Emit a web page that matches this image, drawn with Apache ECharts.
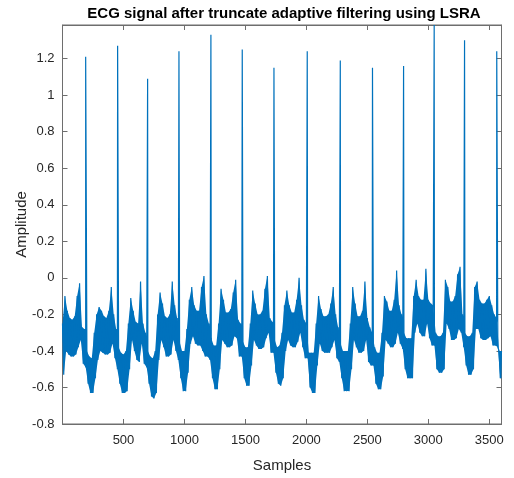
<!DOCTYPE html>
<html>
<head>
<meta charset="utf-8">
<style>
  html, body { margin: 0; padding: 0; background: #fff; }
  #chart { width: 514px; height: 478px; }
</style>
<script src="https://cdn.jsdelivr.net/npm/echarts/dist/echarts.min.js"></script>
</head>
<body>
<div id="chart"></div>
<script>
// band of the noisy signal, read every 20 samples (upper / lower edge)
var step = 20
var bandTop = [
  -0.25, -0.10, -0.18, -0.22, -0.23, -0.21, -0.10, -0.03, -0.27, -0.28,
  -0.40, -0.43, -0.44, -0.30, -0.20, -0.16, -0.18, -0.21, -0.22, -0.18,
  -0.05, -0.20, -0.28, -0.38, -0.41, -0.42, -0.40, -0.25, -0.11, -0.18,
  -0.24, -0.25, -0.02, -0.25, -0.30, -0.40, -0.43, -0.44, -0.40, -0.20,
  -0.08, -0.14, -0.21, -0.22, -0.20, -0.02, -0.15, -0.22, -0.35, -0.40,
  -0.40, -0.28, -0.12, -0.05, -0.15, -0.18, -0.18, -0.05, 0.01, -0.20,
  -0.25, -0.33, -0.37, -0.37, -0.25, -0.06, -0.12, -0.19, -0.19, -0.17,
  -0.08, -0.01, -0.23, -0.25, -0.35, -0.38, -0.38, -0.25, -0.07, -0.14,
  -0.20, -0.20, -0.18, -0.06, 0.01, -0.22, -0.24, -0.34, -0.38, -0.37,
  -0.30, -0.15, -0.07, -0.15, -0.19, -0.19, -0.12, 0.00, -0.15, -0.23,
  -0.25, -0.41, -0.41, -0.41, -0.25, -0.10, -0.17, -0.21, -0.21, -0.20,
  -0.14, -0.05, -0.20, -0.27, -0.36, -0.40, -0.40, -0.40, -0.25, -0.05,
  -0.14, -0.21, -0.21, -0.18, -0.02, -0.22, -0.27, -0.30, -0.38, -0.41,
  -0.41, -0.30, -0.10, -0.13, -0.18, -0.18, -0.12, 0.04, -0.15, -0.20,
  -0.30, -0.33, -0.33, -0.33, -0.10, -0.01, -0.10, -0.12, -0.12, 0.05,
  -0.12, -0.14, -0.15, -0.30, -0.32, -0.32, -0.30, -0.01, -0.05, -0.13,
  -0.13, -0.10, 0.02, 0.06, -0.20, -0.30, -0.32, -0.32, -0.30, -0.05,
  -0.02, -0.12, -0.14, -0.14, -0.12, -0.10, -0.15, -0.20, -0.22, -0.40,
  -0.40
]
var bandBottom = [
  -0.53, -0.40, -0.42, -0.43, -0.43, -0.42, -0.38, -0.34, -0.47, -0.49,
  -0.58, -0.63, -0.63, -0.55, -0.45, -0.40, -0.41, -0.42, -0.42, -0.41,
  -0.36, -0.44, -0.50, -0.58, -0.63, -0.63, -0.62, -0.50, -0.34, -0.40,
  -0.45, -0.46, -0.36, -0.47, -0.49, -0.58, -0.65, -0.66, -0.63, -0.45,
  -0.34, -0.38, -0.43, -0.43, -0.42, -0.34, -0.40, -0.45, -0.55, -0.62,
  -0.62, -0.52, -0.36, -0.32, -0.36, -0.37, -0.37, -0.40, -0.43, -0.43,
  -0.45, -0.55, -0.61, -0.61, -0.50, -0.34, -0.36, -0.38, -0.38, -0.37,
  -0.32, -0.33, -0.43, -0.43, -0.55, -0.59, -0.59, -0.48, -0.34, -0.37,
  -0.39, -0.39, -0.38, -0.33, -0.30, -0.41, -0.41, -0.52, -0.58, -0.59,
  -0.55, -0.40, -0.34, -0.37, -0.38, -0.38, -0.35, -0.30, -0.38, -0.44,
  -0.44, -0.60, -0.63, -0.63, -0.48, -0.36, -0.40, -0.41, -0.41, -0.41,
  -0.38, -0.34, -0.44, -0.46, -0.55, -0.62, -0.62, -0.62, -0.50, -0.34,
  -0.38, -0.41, -0.41, -0.40, -0.34, -0.46, -0.48, -0.48, -0.58, -0.61,
  -0.61, -0.54, -0.34, -0.36, -0.38, -0.38, -0.36, -0.30, -0.36, -0.39,
  -0.50, -0.55, -0.55, -0.55, -0.30, -0.25, -0.30, -0.32, -0.32, -0.25,
  -0.33, -0.37, -0.37, -0.50, -0.52, -0.52, -0.50, -0.25, -0.28, -0.34,
  -0.34, -0.33, -0.28, -0.30, -0.38, -0.48, -0.53, -0.53, -0.50, -0.28,
  -0.28, -0.33, -0.34, -0.34, -0.33, -0.32, -0.37, -0.37, -0.38, -0.55,
  -0.55
]
// R peaks
var rSample = [190, 452, 698, 955, 1217, 1474, 1734, 2007, 2278, 2542, 2797, 3048, 3297, 3561]
var rPeak = [1.21, 1.27, 1.09, 1.24, 1.33, 1.25, 1.15, 1.24, 1.19, 1.15, 1.16, 1.384, 1.30, 1.24]

var nSamples = 3600
var lineColor = '#0072BD'

// zig-zag trace through both edges plus the R peaks
var points = []
for (var k = 0; k < bandTop.length; k++) {
  var s = k * step
  points.push([s, bandTop[k]])
  if (s + step / 2 <= nSamples) points.push([s + step / 2, bandBottom[k]])
}
for (var j = 0; j < rSample.length; j++) {
  points.push([rSample[j], rPeak[j]])
}
points.sort(function (a, b) { return a[0] - b[0] })

// the dense noise fills the space between the two edges
function renderBand(params, api) {
  var poly = []
  for (var i = 0; i < bandTop.length; i++) {
    poly.push(api.coord([i * step, bandTop[i]]))
  }
  for (var m = bandBottom.length - 1; m >= 0; m--) {
    poly.push(api.coord([Math.min(m * step + step / 2, nSamples), bandBottom[m]]))
  }
  return {
    type: 'polygon',
    shape: { points: poly },
    style: { fill: lineColor }
  }
}

var axisColor = '#6e6e6e'
var textColor = '#262626'
var font = 'Liberation Sans, Arial, Helvetica, sans-serif'
var plain = function (v) { return String(Math.round(v * 100) / 100) }

var chart = echarts.init(document.getElementById('chart'))
var option = {
  animation: false,
  title: {
    text: 'ECG signal after truncate adaptive filtering using LSRA',
    left: 279,
    textAlign: 'center',
    top: 1,
    textStyle: { fontSize: 15, fontWeight: 'bold', color: '#000', fontFamily: font }
  },
  grid: {
    left: 62.5, right: 12.5, top: 25, bottom: 52.3,
    show: true, borderColor: axisColor, borderWidth: 1, backgroundColor: '#fff'
  },
  xAxis: [
    {
      type: 'value', min: 0, max: nSamples, interval: 500,
      name: 'Samples', nameLocation: 'middle', nameGap: 34, nameMoveOverlap: false,
      nameTextStyle: { fontSize: 15, color: textColor, fontFamily: font },
      axisLine: { show: true, onZero: false, lineStyle: { color: axisColor } },
      axisTick: { inside: true, length: 5, lineStyle: { color: axisColor } },
      axisLabel: { showMinLabel: false, showMaxLabel: false, fontSize: 13, color: textColor, fontFamily: font, margin: 10, formatter: plain },
      splitLine: { show: false }
    },
    {
      type: 'value', min: 0, max: nSamples, interval: 500, position: 'top',
      axisLine: { show: true, onZero: false, lineStyle: { color: axisColor } },
      axisTick: { inside: true, length: 5, lineStyle: { color: axisColor } },
      axisLabel: { show: false },
      splitLine: { show: false }
    }
  ],
  yAxis: [
    {
      type: 'value', min: -0.8, max: 1.384, interval: 0.2,
      name: 'Amplitude', nameLocation: 'middle', nameGap: 33, nameMoveOverlap: false,
      nameTextStyle: { fontSize: 15, color: textColor, fontFamily: font },
      axisLine: { show: true, onZero: false, lineStyle: { color: axisColor } },
      axisTick: { inside: true, length: 5, lineStyle: { color: axisColor } },
      axisLabel: { showMaxLabel: false, fontSize: 13, color: textColor, fontFamily: font, margin: 8, formatter: plain },
      splitLine: { show: false }
    },
    {
      type: 'value', min: -0.8, max: 1.384, interval: 0.2, position: 'right',
      axisLine: { show: true, onZero: false, lineStyle: { color: axisColor } },
      axisTick: { inside: true, length: 5, lineStyle: { color: axisColor } },
      axisLabel: { show: false },
      splitLine: { show: false }
    }
  ],
  series: [
    {
      type: 'custom',
      renderItem: renderBand,
      data: [[0, 0]],
      silent: true,
      z: 1
    },
    {
      type: 'line',
      data: points,
      symbol: 'none',
      clip: true,
      sampling: null,
      lineStyle: { color: lineColor, width: 1.2 },
      itemStyle: { color: lineColor },
      z: 2
    }
  ]
}
chart.setOption(option)
</script>
</body>
</html>
